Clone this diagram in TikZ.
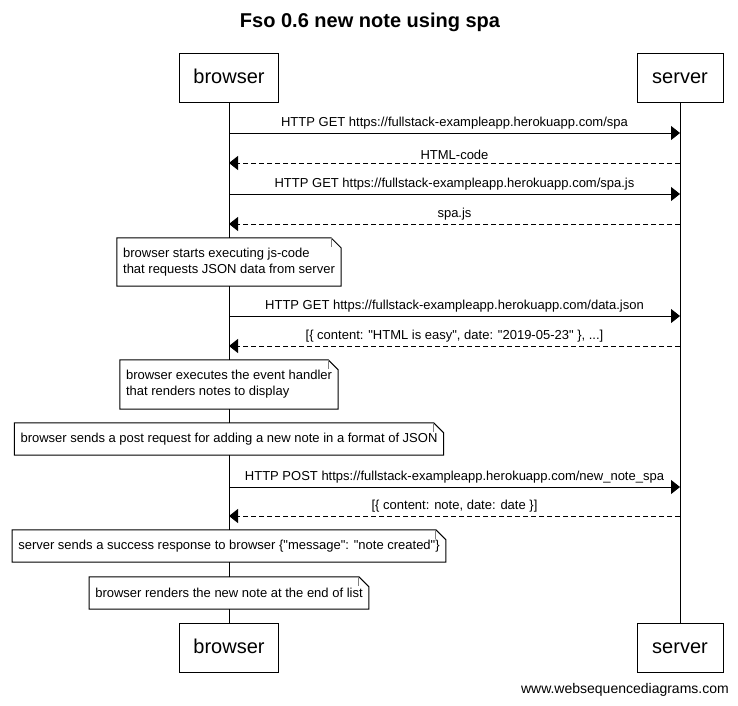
\documentclass[tikz,border=0pt]{standalone}
\usepackage{fontspec}
\setmainfont{Liberation Sans}[Ligatures=TeXOff]
\usetikzlibrary{arrows.meta}
\newcommand\notefold[1]{%
  \draw[line width=1pt] (#1.north west) -- ([xshift=-10pt]#1.north east) -- ([yshift=-10pt]#1.north east) -- (#1.south east) -- (#1.south west) -- cycle;
  \draw[line width=1pt, gray] ([xshift=-10pt]#1.north east) -- ([xshift=-10pt,yshift=-9pt]#1.north east);}
\newcommand\qq{\symbol{34}}
\begin{document}
\begin{tikzpicture}[x=1pt,y=-1pt,
  actor/.style={draw, line width=1pt, fill=white, minimum height=49pt, inner xsep=14pt, inner ysep=0pt, text height=15pt, text depth=4pt, font=\fontsize{20}{24}\selectfont},
  msg/.style={line width=1pt, -{Triangle[length=9pt,width=14pt]}},
  reply/.style={msg, dash pattern=on 5pt off 3pt},
  lbl/.style={font=\fontsize{13}{16}\selectfont, inner sep=0pt, fill=none},
  note/.style={fill=white, inner xsep=6pt, inner ysep=0pt, align=left, font=\fontsize{13}{16}\selectfont},
  life/.style={line width=1pt}]
\useasboundingbox (0,0) rectangle (738,705);
\fill[white] (0,0) rectangle (738,705);

\node[font=\bfseries\fontsize{20}{24}\selectfont] (title) at (370,22) {Fso 0.6 new note using spa};

\node[actor, minimum width=99pt] (bt) at (229,77.5) {browser};
\node[actor, minimum width=86pt] (st) at (680,77.5) {server};
\node[actor, minimum width=99pt] (bb) at (229,647.5) {browser};
\node[actor, minimum width=86pt] (sb) at (680,647.5) {server};
\draw[life] (bt.south) -- (bb.north);
\draw[life] (st.south) -- (sb.north);

% coordinates on lifelines
\foreach \n/\y in {1/133,2/163,3/194,4/224,5/316,6/346,7/487,8/516}{
  \coordinate (b\n) at (229,\y);
  \coordinate (s\n) at (680,\y);
}
\draw[msg] (b1) -- node[lbl, above=3pt] {HTTP GET https://fullstack-exampleapp.herokuapp.com/spa} (s1);
\draw[reply] (s2) -- node[lbl, above=3pt] {HTML-code} (b2);
\draw[msg] (b3) -- node[lbl, above=3pt] {HTTP GET https://fullstack-exampleapp.herokuapp.com/spa.js} (s3);
\draw[reply] (s4) -- node[lbl, above=3pt] {spa.js} (b4);

\node[note, minimum height=48pt] (n1) at (229,262) {browser starts executing js-code\\that requests JSON data from server};
\notefold{n1}

\draw[msg] (b5) -- node[lbl, above=3pt] {HTTP GET https://fullstack-exampleapp.herokuapp.com/data.json} (s5);
\draw[reply] (s6) -- node[lbl, above=3pt] {[\{ content: \qq HTML is easy\qq, date: \qq 2019-05-23\qq\ \}, ...]} (b6);

\node[note, minimum height=49pt] (n2) at (229,384.5) {browser executes the event handler\\that renders notes to display};
\notefold{n2}

\node[note, minimum height=32pt] (n3) at (229,439) {browser sends a post request for adding a new note in a format of JSON};
\notefold{n3}

\draw[msg] (b7) -- node[lbl, above=3pt] {HTTP POST https://fullstack-exampleapp.herokuapp.com/new\_note\_spa} (s7);
\draw[reply] (s8) -- node[lbl, above=3pt] {[\{ content: note, date: date \}]} (b8);

\node[note, minimum height=32pt] (n4) at (229,546) {server sends a success response to browser \{\qq message\qq: \qq note created\qq\}};
\notefold{n4}

\node[note, minimum height=32pt] (n5) at (229,593) {browser renders the new note at the end of list};
\notefold{n5}

\node[font=\fontsize{14}{17}\selectfont, anchor=east, inner sep=0pt] (wm) at (729,690) {www.websequencediagrams.com};
\end{tikzpicture}
\end{document}
